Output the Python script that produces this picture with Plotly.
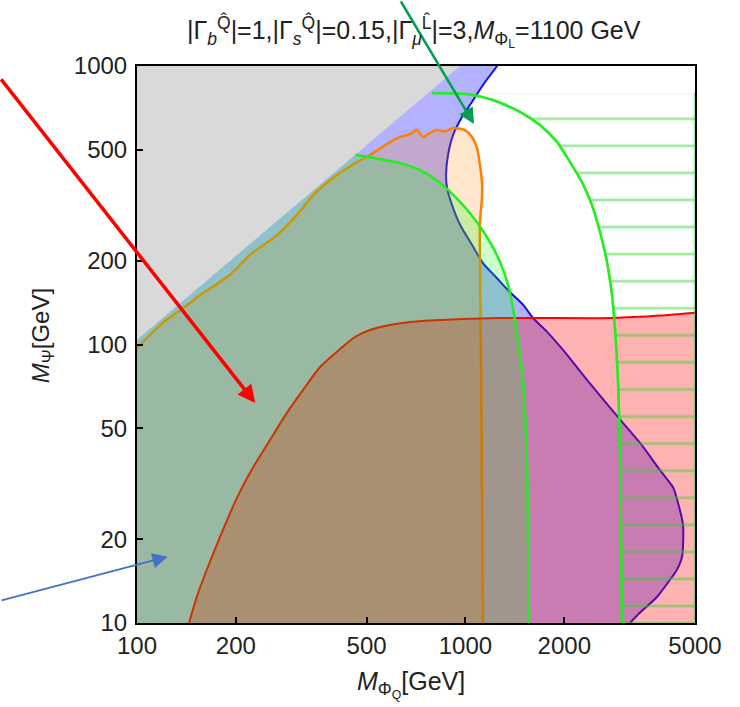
import numpy as np
import plotly.graph_objects as go

# ---------------- data ----------------
x_range = [100, 5000]
y_range = [10, 1000]
x_ticks = [100, 200, 500, 1000, 2000, 5000]
y_ticks = [10, 20, 50, 100, 200, 500, 1000]

# kinematic boundary (gray region above it)
diag_x = [100, 962]
diag_y = [104, 1000]

# blue contour
blue_x = [1250, 1131, 1047, 976, 917, 885, 873, 879, 910, 963, 1047, 1131, 1248, 1367,
          1497, 1606, 1772, 1982, 2345, 2914, 3401, 3912, 4196, 4300, 4439, 4597, 4565,
          4400, 4196, 3830, 3401, 3170]
blue_y = [1000, 855, 743, 656, 565, 479, 406, 365, 317, 269, 228, 196, 173, 154,
          139, 124.5, 111, 95.6, 74.6, 54.9, 44.3, 35.4, 31.8, 30.5, 27.0, 22.5, 17.3,
          15.5, 14.3, 12.4, 10.9, 10]

# orange contour
orange_x = [100, 120, 138, 159, 192, 221, 267, 307, 344, 395, 468, 512, 619, 680, 712,
            743, 780, 819, 870, 917, 997, 1047, 1084, 1107, 1123, 1123, 1107, 1107, 1115, 1131]
orange_y = [97, 120, 135, 153, 178, 210, 247, 292, 344, 396, 452, 479, 551, 570, 590,
            556, 575, 589, 582, 599, 589, 556, 508, 441, 383, 336, 275, 210, 91.7, 10]

# red contour
red_x = [144, 152, 163, 179, 202, 226, 254, 286, 320, 361, 415, 461, 512, 589, 678, 780,
         1274, 2813, 3912, 5000]
red_y = [10, 12.4, 15.5, 20.4, 28.3, 36.3, 45.4, 56.8, 68.6, 83.0, 96.3, 106.4, 112.7,
         117.5, 120.4, 122, 124.5, 124.5, 127, 130]

# inner green contour
green_in_x = [462, 632, 727, 837, 963, 1084, 1188, 1274, 1348, 1396, 1445, 1497, 1540,
              1550, 1562]
green_in_y = [480, 448, 423, 380, 325, 275, 233, 198, 164, 135, 104, 74.6, 37.5, 21.6, 10]

# outer (hatched) green contour
green_out_x = [791, 1011, 1213, 1466, 1687, 1900, 2082, 2264, 2428, 2568, 2698, 2794,
               2853, 2914, 2955, 2976, 2997]
green_out_y = [800, 793, 755, 684, 614, 534, 452, 383, 317, 254, 198, 151, 115, 74.6,
               41.8, 21.6, 10]

# annotation arrows: tip in data units, tail offset in pixels
arrow_tips = [(229, 61.7), (1062, 619), (124, 17.3)]
arrow_tails = [(-261, -325), (-74, -130), (-174, 44)]
arrow_colors = ["#ff0000", "#00a050", "#4472c4"]
arrow_widths = [3.5, 2.5, 1.8]
arrow_sizes = [1.0, 1.25, 1.7]

# ---------------- styles ----------------
GRAY = "#d9d9d9"
BLUE_F = "rgba(0,0,255,0.3)"
ORANGE_F = "rgba(255,128,0,0.2)"
RED_F = "rgba(255,0,0,0.3)"
GREEN_F = "rgba(0,255,0,0.2)"
HATCH = "rgba(40,210,40,0.45)"
HATCH_SPACING = 27.07          # px between hatch lines
PLOT_TOP, PLOT_H = 66, 557     # px (margin top, plot height)
HATCH_PHASE_TOP = 78.15        # px where hatch tiles start (aligns lines with reference)

fig = go.Figure()


def fill_trace(xs, ys, color, **kw):
    return go.Scatter(x=xs, y=ys, mode="lines", fill="toself", fillcolor=color,
                      line=dict(width=0), hoverinfo="skip", showlegend=False, **kw)


def line_trace(xs, ys, color, width, **kw):
    return go.Scatter(x=xs, y=ys, mode="lines",
                      line=dict(color=color, width=width, shape="spline", smoothing=0.7),
                      hoverinfo="skip", showlegend=False, **kw)


# gray (excluded) region
fig.add_trace(fill_trace(diag_x + [x_range[0]], diag_y + [y_range[1]], GRAY))
# blue region
fig.add_trace(fill_trace([x_range[0]] + diag_x + blue_x, [y_range[0]] + diag_y + blue_y, BLUE_F))
fig.add_trace(line_trace(blue_x, blue_y, "#1010f0", 2))
# orange region
fig.add_trace(fill_trace([x_range[0]] + orange_x, [y_range[0]] + orange_y, ORANGE_F))
fig.add_trace(line_trace(orange_x, orange_y, "#ff8000", 2.5))
# red region
fig.add_trace(fill_trace(red_x + [x_range[1]], red_y + [y_range[0]], RED_F))
fig.add_trace(line_trace(red_x, red_y, "#ff0000", 2))
# inner green region
fig.add_trace(fill_trace([x_range[0], diag_x[0]] + green_in_x,
                         [y_range[0], diag_y[0]] + green_in_y, GREEN_F))
fig.add_trace(line_trace(green_in_x, green_in_y, "#22ee22", 2.5))
# hatched outer green region (drawn on an identical-scale hidden subplot so the
# hatch pattern phase matches the reference)
fig.add_trace(go.Scatter(
    x=green_out_x + [x_range[1], x_range[1]],
    y=green_out_y + [y_range[0], green_out_y[0]],
    mode="lines", fill="toself", fillcolor="rgba(0,0,0,0)",
    fillpattern=dict(shape="-", size=HATCH_SPACING, solidity=0.1, fgcolor="rgb(40,210,40)",
                     fgopacity=0.45, bgcolor="rgba(0,0,0,0)"),
    line=dict(color=HATCH, width=2.5),
    hoverinfo="skip", showlegend=False, xaxis="x2", yaxis="y2"))
fig.add_trace(line_trace(green_out_x, green_out_y, "#22ee22", 2.5, xaxis="x2", yaxis="y2"))

FONT = "Liberation Sans, Arial, sans-serif"

axis_common = dict(type="log", showgrid=False, zeroline=False, showline=True,
                   mirror=True, linecolor="black", linewidth=2, ticks="inside",
                   ticklen=6, tickwidth=2, tickcolor="black",
                   tickfont=dict(family=FONT, size=24, color="#222"))

ylog = [np.log10(y_range[0]), np.log10(y_range[1])]
xlog = [np.log10(x_range[0]), np.log10(x_range[1])]

fig.update_layout(
    xaxis=dict(range=xlog, tickvals=x_ticks, ticktext=[str(v) for v in x_ticks],
               ticklabelstandoff=0, **axis_common),
    yaxis=dict(range=ylog, tickvals=y_ticks, ticktext=[str(v) for v in y_ticks],
               ticklabelstandoff=3, **axis_common),
)

d2 = (PLOT_TOP + PLOT_H - HATCH_PHASE_TOP) / PLOT_H
fig.update_layout(
    xaxis2=dict(type="log", range=xlog, domain=[0, 1], anchor="y2", visible=False,
                showgrid=False, zeroline=False),
    yaxis2=dict(type="log", range=[ylog[0], ylog[0] + (ylog[1] - ylog[0]) * d2],
                domain=[0, d2], anchor="x2", visible=False, showgrid=False, zeroline=False),
)

annotations = []
for (tx, ty), (ax, ay), c, w, s in zip(arrow_tips, arrow_tails, arrow_colors,
                                         arrow_widths, arrow_sizes):
    annotations.append(dict(x=np.log10(tx), y=np.log10(ty), xref="x", yref="y",
                            ax=ax, ay=ay, text="", showarrow=True, arrowhead=2,
                            arrowsize=s, arrowwidth=w, arrowcolor=c, standoff=0))

annotations.append(dict(
    text="|Γ<sub><i>b</i></sub><sup>Q̂</sup>|=1,|Γ<sub><i>s</i></sub><sup>Q̂</sup>|=0.15,"
         "|Γ<sub><i>μ</i></sub><sup>L̂</sup>|=3,<i>M</i><sub>Φ<sub>L</sub></sub>=1100 GeV",
    xref="paper", yref="paper", x=0.496, y=1.062, xanchor="center", yanchor="middle",
    showarrow=False, font=dict(family=FONT, size=25, color="#222")))
annotations.append(dict(
    text="<i>M</i><sub>Φ<sub>Q</sub></sub>[GeV]",
    xref="paper", yref="paper", x=0.491, y=-0.110, xanchor="center", yanchor="middle",
    showarrow=False, font=dict(family=FONT, size=25, color="#222")))
annotations.append(dict(
    text="<i>M</i><sub>Ψ</sub>[GeV]", textangle=-90,
    xref="paper", yref="paper", x=-0.170, y=0.515, xanchor="center", yanchor="middle",
    showarrow=False, font=dict(family=FONT, size=24, color="#222")))

fig.update_layout(width=740, height=707,
                  margin=dict(l=137, r=45, t=PLOT_TOP, b=84, autoexpand=False),
                  plot_bgcolor="rgba(0,0,0,0)", paper_bgcolor="white",
                  showlegend=False, annotations=annotations)

fig.write_html("out.html")
